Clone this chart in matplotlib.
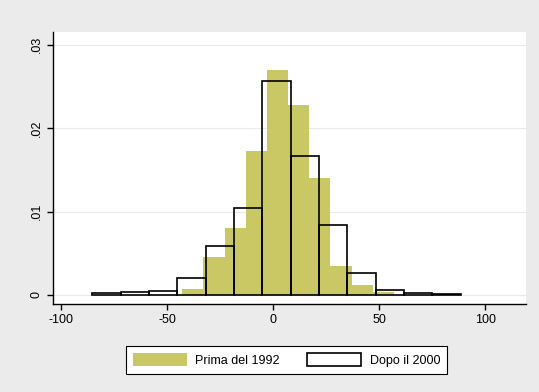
import matplotlib
matplotlib.use("Agg")
import matplotlib.pyplot as plt
import numpy as np

# Prima del 1992: bin edges and densities
prima_edges = [-43, -33, -23, -13, -3, 7, 17, 27, 37, 47, 57]
prima_dens = [0.0007, 0.0046, 0.0080, 0.0173, 0.0270, 0.0228, 0.0140, 0.0035, 0.0012, 0.0004]

# Dopo il 2000: bin edges and densities
dopo_edges = [-85.4, -72.0, -58.7, -45.3, -31.9, -18.6, -5.2, 8.2, 21.5, 34.9, 48.3, 61.6, 75.0, 88.4]
dopo_dens = [0.0002, 0.0003, 0.0005, 0.0020, 0.0059, 0.0104, 0.0257, 0.0167, 0.0084,
             0.0026, 0.0006, 0.0002, 0.0001]

xticks = [-100, -50, 0, 50, 100]
yticks = [0, 0.01, 0.02, 0.03]
ytick_labels = ["0", ".01", ".02", ".03"]

bg = "#EBEBEB"
khaki = "#C9C864"

plt.rcParams["font.family"] = ["Liberation Sans", "DejaVu Sans"]
plt.rcParams["axes.unicode_minus"] = False

fig = plt.figure(figsize=(5.39, 3.92), dpi=100, facecolor=bg)
ax = fig.add_axes([0.0983, 0.2245, 0.8776, 0.6935])
ax.set_facecolor("white")

pe = np.array(prima_edges)
ax.bar(pe[:-1], prima_dens, width=np.diff(pe), align="edge", color=khaki,
       linewidth=0, label="Prima del 1992", zorder=2)

de = np.array(dopo_edges)
ax.bar(de[:-1], dopo_dens, width=np.diff(de), align="edge", facecolor="none",
       edgecolor="black", linewidth=1.2, label="Dopo il 2000", zorder=3)

ax.set_xlim(-104, 119.3)
ax.set_ylim(-0.00108, 0.0315)
ax.set_xticks(xticks)
ax.set_yticks(yticks)
ax.set_yticklabels(ytick_labels, rotation=90, va="center")
ax.tick_params(axis="both", labelsize=9, length=4, width=1, color="black")
ax.grid(axis="y", color="#EAEAEA", linewidth=0.8, zorder=0)
ax.set_axisbelow(True)

for side in ["top", "right"]:
    ax.spines[side].set_visible(False)
for side in ["left", "bottom"]:
    ax.spines[side].set_linewidth(1)

leg = fig.legend(loc="center", bbox_to_anchor=(0.532, 0.082), ncol=2, fontsize=9,
                 frameon=True, fancybox=False, edgecolor="black",
                 facecolor="white", framealpha=1, handlelength=4.3,
                 handleheight=1.3, columnspacing=2.2, handletextpad=0.7,
                 borderpad=0.55)
leg.get_frame().set_linewidth(0.8)

fig.savefig("out.png", dpi=100, facecolor=bg)
